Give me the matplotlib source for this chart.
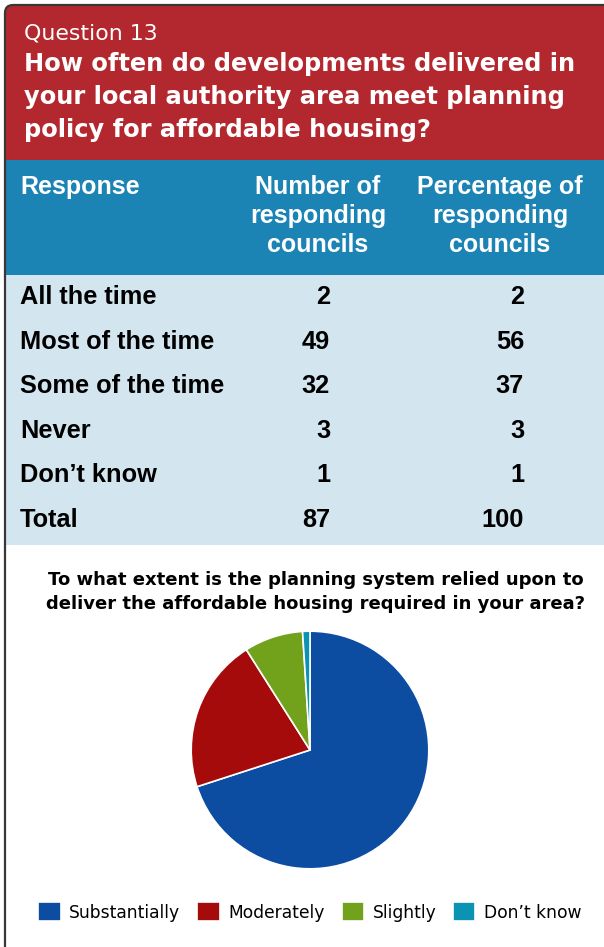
import matplotlib.pyplot as plt
from matplotlib.patches import Rectangle, FancyBboxPatch

# header text
question_no = "Question 13"
question_lines = ["How often do developments delivered in",
                  "your local authority area meet planning",
                  "policy for affordable housing?"]

# table
col_headers = [["Response"],
               ["Number of", "responding", "councils"],
               ["Percentage of", "responding", "councils"]]
responses = ["All the time", "Most of the time", "Some of the time",
             "Never", "Don’t know", "Total"]
counts = [2, 49, 32, 3, 1, 87]
percents = [2, 56, 37, 3, 1, 100]

# pie
pie_title = ["To what extent is the planning system relied upon to",
             "deliver the affordable housing required in your area?"]
pie_labels = ["Substantially", "Moderately", "Slightly", "Don’t know"]
pie_values = [70, 21, 8, 1]
pie_colors = ["#0C4DA2", "#A50B0B", "#72A11B", "#0A93B2"]

W, H = 604, 947
red = "#B3282F"
blue = "#1C83B5"
pale = "#D3E6F0"

fig = plt.figure(figsize=(W / 100, H / 100), dpi=100)
ax = fig.add_axes([0, 0, 1, 1])
ax.set_xlim(0, W)
ax.set_ylim(H, 0)
ax.axis("off")

# background blocks
ax.add_patch(FancyBboxPatch((5, 5), 700, 300, boxstyle="round,pad=0,rounding_size=8",
                            facecolor=red, edgecolor="none"))
ax.add_patch(Rectangle((5, 160), 700, 115, facecolor=blue, edgecolor="none"))
ax.add_patch(Rectangle((5, 275), 700, 270, facecolor=pale, edgecolor="none"))
ax.add_patch(FancyBboxPatch((5, 5), 700, 1100, boxstyle="round,pad=0,rounding_size=8",
                            facecolor="none", edgecolor="#3b3535", linewidth=1.6))

head_font = ["DejaVu Sans"]
tab_font = ["Liberation Sans", "DejaVu Sans"]

ax.text(24, 33, question_no, color="white", fontsize=15.8, family=head_font,
        va="center", ha="left")
for i, line in enumerate(question_lines):
    ax.text(24, 64 + i * 33, line, color="white", fontsize=17.4, family=head_font,
            fontweight="bold", va="center", ha="left")

# table header
ax.text(20, 187, col_headers[0][0], color="white", fontsize=18, family=tab_font,
        fontweight="bold", va="center", ha="left")
for x, lines in zip([318, 500], col_headers[1:]):
    for j, line in enumerate(lines):
        ax.text(x, 187 + j * 29, line, color="white", fontsize=18, family=tab_font,
                fontweight="bold", va="center", ha="center")

# table rows
for i, (resp, n, p) in enumerate(zip(responses, counts, percents)):
    y = 297 + i * 44.6
    ax.text(20, y, resp, fontsize=18.3, family=tab_font, fontweight="bold",
            va="center", ha="left", color="black")
    ax.text(330, y, str(n), fontsize=18.3, family=tab_font, fontweight="bold",
            va="center", ha="right", color="black")
    ax.text(524, y, str(p), fontsize=18.3, family=tab_font, fontweight="bold",
            va="center", ha="right", color="black")

# pie title
for i, line in enumerate(pie_title):
    ax.text(316, 580 + i * 24, line, fontsize=13.0, family=head_font,
            fontweight="bold", va="center", ha="center", color="black")

# pie
cx, cy, r = 310, 750, 120
pax = fig.add_axes([(cx - r) / W, (H - cy - r) / H, 2 * r / W, 2 * r / H])
wedges, _ = pax.pie(pie_values, colors=pie_colors, startangle=90, counterclock=False,
                    wedgeprops=dict(edgecolor="white", linewidth=1.2))
pax.set_xlim(-1.01, 1.01)
pax.set_ylim(-1.01, 1.01)

leg = fig.legend(wedges, pie_labels, loc="center", bbox_to_anchor=(310 / W, 1 - 912 / H),
                 ncol=4, frameon=False, handlelength=1.3, handleheight=1.3,
                 handletextpad=0.5, columnspacing=1.0,
                 prop=dict(family=head_font, size=12.3))

fig.savefig("out.png", dpi=100)
